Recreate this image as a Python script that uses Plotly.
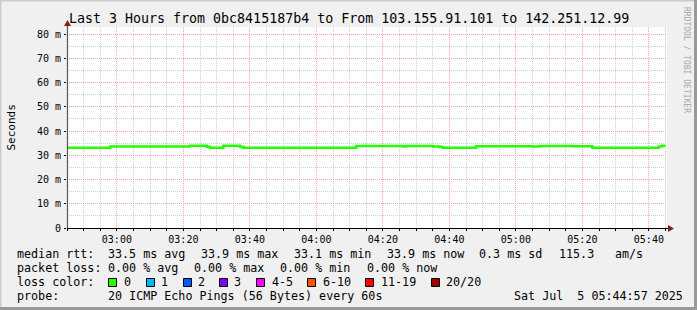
import plotly.graph_objects as go

W, H = 697, 310

# ---- data ----
times = ["02:45", "02:58", "03:22", "03:27", "03:28", "03:32", "03:37", "03:38",
         "04:12", "04:26", "04:27", "04:35", "04:37", "04:38", "04:48", "05:05",
         "05:07", "05:17", "05:23", "05:43", "05:44", "05:45"]
rtt_ms = [33.1, 33.6, 33.9, 33.5, 33.1, 33.9, 33.5, 33.1,
          33.8, 33.6, 33.8, 33.6, 33.4, 33.1, 33.7, 33.6,
          33.8, 33.7, 33.1, 33.6, 33.9, 33.9]
y_ticks = [0, 10, 20, 30, 40, 50, 60, 70, 80]
y_tick_labels = ["0", "10 m", "20 m", "30 m", "40 m", "50 m", "60 m", "70 m", "80 m"]

title = "Last 3 Hours from 0bc8415187b4 to From 103.155.91.101 to 142.251.12.99"
rtt_stats = ["33.5 ms avg", "33.9 ms max", "33.1 ms min", "33.9 ms now", "0.3 ms sd", "115.3", "am/s"]
loss_stats = ["0.00 % avg", "0.00 % max", "0.00 % min", "0.00 % now"]
loss_labels = ["0", "1", "2", "3", "4-5", "6-10", "11-19", "20/20"]
loss_colors = ["#26ff00", "#00b8ff", "#0059ff", "#7e00ff", "#ff00ff", "#ff5500", "#ff0000", "#a10000"]
probe_text = "20 ICMP Echo Pings (56 Bytes) every 60s"
date_text = "Sat Jul  5 05:44:57 2025"

DAY = "2025-07-05 "
x = [DAY + t for t in times]

# ---- layout helpers (pixel -> paper) ----
def px(v):
    return v / W

def py(v):
    return 1 - v / H

L, R, T, B = 67, 667, 27, 228
FONT = "DejaVu Sans Mono"
LEG = 11.7

fig = go.Figure()
fig.add_trace(go.Scatter(x=x, y=rtt_ms, mode="lines", line=dict(color="#26ff00", width=2.6, shape="hv"),
                         hoverinfo="skip", showlegend=False))

grid_minor = "#cfcfcf"
grid_major = "#f4a4a4"

fig.update_layout(
    width=W, height=H, margin=dict(l=0, r=0, t=0, b=0, autoexpand=False),
    paper_bgcolor="#f0f0f0", plot_bgcolor="#ffffff",
    showlegend=False,
    font=dict(family=FONT, size=10, color="#000000"),
    xaxis=dict(
        domain=[px(L), px(R)], type="date", automargin=False,
        range=[DAY + "02:45:00", DAY + "05:45:27"],
        tick0=DAY + "03:00", dtick=20 * 60 * 1000, tickformat="%H:%M",
        showgrid=True, gridcolor=grid_major, griddash="1px,1px", gridwidth=1,
        ticks="outside", ticklen=2, tickcolor="#000000",
        minor=dict(dtick=5 * 60 * 1000, tick0=DAY + "03:00", showgrid=True, gridcolor=grid_minor,
                   griddash="1px,1px", ticks="outside", ticklen=2, tickcolor="#000000"),
        zeroline=False, showline=False, fixedrange=True,
        tickfont=dict(family=FONT, size=10),
    ),
    yaxis=dict(
        domain=[py(B), py(T)], range=[0, 82.9], automargin=False,
        tickvals=y_ticks, ticktext=y_tick_labels,
        showgrid=True, gridcolor=grid_major, griddash="1px,1px", gridwidth=1,
        ticks="outside", ticklen=2, tickcolor="#000000",
        minor=dict(dtick=5, showgrid=True, gridcolor=grid_minor, griddash="1px,1px"),
        zeroline=False, showline=False, fixedrange=True,
        tickfont=dict(family=FONT, size=10),
        ticklabelstandoff=1,
    ),
)

shapes = []
# outer 3D frame
shapes.append(dict(type="line", xref="paper", yref="paper", x0=0, x1=1, y0=py(0.75), y1=py(0.75),
                   line=dict(color="#cbcbcb", width=1.5)))
shapes.append(dict(type="line", xref="paper", yref="paper", x0=px(0.75), x1=px(0.75), y0=0, y1=1,
                   line=dict(color="#cbcbcb", width=1.5)))
shapes.append(dict(type="line", xref="paper", yref="paper", x0=0, x1=1, y0=py(H - 1.5), y1=py(H - 1.5),
                   line=dict(color="#999999", width=3)))
shapes.append(dict(type="line", xref="paper", yref="paper", x0=px(W - 1.5), x1=px(W - 1.5), y0=0, y1=1,
                   line=dict(color="#999999", width=3)))
# axes lines
shapes.append(dict(type="line", xref="paper", yref="paper", x0=px(L), x1=px(R + 2), y0=py(B + 0.5), y1=py(B + 0.5),
                   line=dict(color="#000000", width=1.2)))
shapes.append(dict(type="line", xref="paper", yref="paper", x0=px(L + 0.5), x1=px(L + 0.5), y0=py(B), y1=py(T - 3),
                   line=dict(color="#555555", width=1.2)))
# arrows
shapes.append(dict(type="path", xref="paper", yref="paper",
                   path=f"M {px(R + 1)} {py(B - 3)} L {px(R + 7)} {py(B + 0.5)} L {px(R + 1)} {py(B + 4)} Z",
                   fillcolor="#7f1f1f", line=dict(width=0)))
shapes.append(dict(type="path", xref="paper", yref="paper",
                   path=f"M {px(L - 3)} {py(T - 1)} L {px(L + 0.5)} {py(T - 7)} L {px(L + 4)} {py(T - 1)} Z",
                   fillcolor="#7f1f1f", line=dict(width=0)))

# loss color boxes
box_x = [108, 146, 183, 219, 256, 307, 365, 431]
lab_x = [123, 160, 197, 233, 271, 322, 380, 445]
for bx, c in zip(box_x, loss_colors):
    shapes.append(dict(type="rect", xref="paper", yref="paper",
                       x0=px(bx + 0.5), x1=px(bx + 8.5), y0=py(286.5), y1=py(278.5),
                       fillcolor=c, line=dict(color="#000000", width=1)))
fig.update_layout(shapes=shapes)

ann = []

def text(xp_, yp_, s, size=LEG, anchor="left", color="#000000", angle=0, yanchor="middle"):
    ann.append(dict(x=px(xp_), y=py(yp_), xref="paper", yref="paper", text=s, showarrow=False,
                    xanchor=anchor, yanchor=yanchor, textangle=angle, borderpad=0,
                    font=dict(family=FONT, size=size, color=color)))

text(W / 2, 19, title, size=13.3, anchor="center")
text(11, (T + B) / 2, "Seconds", size=11, anchor="center", angle=-90)
text(687, 60, "RRDTOOL / TOBI OETIKER", size=8, anchor="center", color="#a8a8a8", angle=90)

# legend rows
r1, r2, r3, r4 = 254, 268, 282, 296
text(16, r1, "median rtt:")
for xx, s in zip([107, 200, 293, 386, 478, 558, 614], rtt_stats):
    text(xx, r1, s)
text(16, r2, "packet loss:")
for xx, s in zip([107, 193, 279, 366], loss_stats):
    text(xx, r2, s)
text(16, r3, "loss color:")
for xx, s in zip(lab_x, loss_labels):
    text(xx, r3, s)
text(16, r4, "probe:")
text(107, r4, probe_text)
text(513, r4, date_text)

fig.update_layout(annotations=ann)
fig.write_html("out.html")
